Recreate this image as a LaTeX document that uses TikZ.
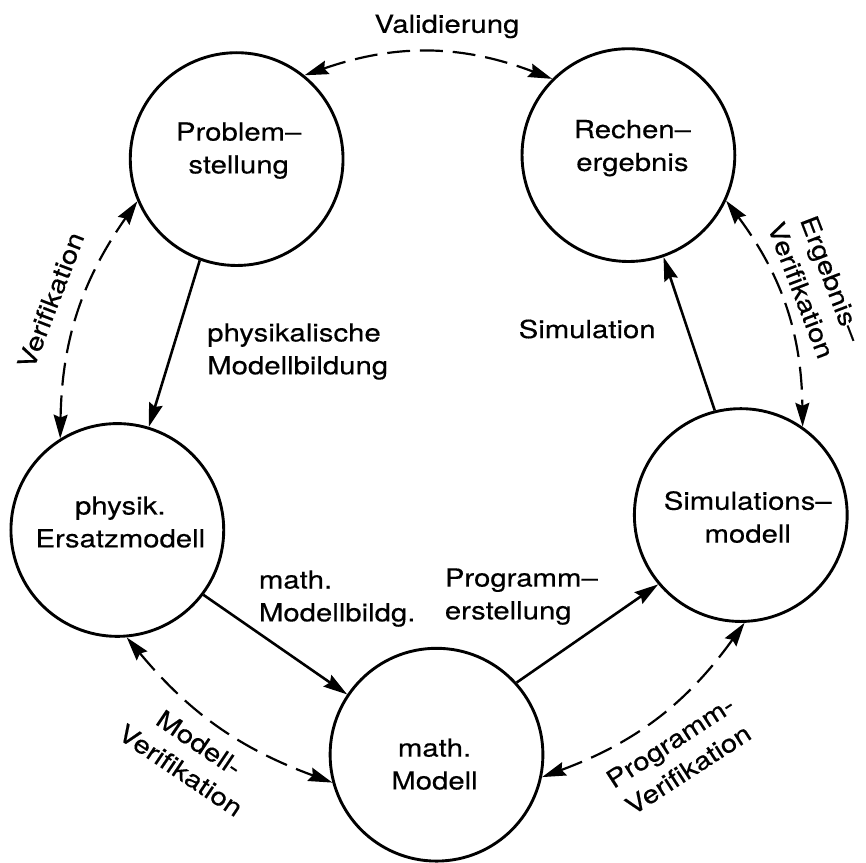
\documentclass[tikz,border=0pt]{standalone}
\usepackage{fontspec}
\setmainfont{TeX Gyre Heros}[FakeStretch=1.18,FakeBold=0.3]
\usetikzlibrary{arrows.meta}
\begin{document}
\begin{tikzpicture}[x=0.5pt,y=-0.5pt,
  state/.style={circle,draw,line width=1.45pt,minimum size=107pt,inner sep=0pt},
  txt/.style={font=\fontsize{12.5}{16.5}\selectfont,inner sep=0pt,align=center},
  ltxt/.style={txt,align=left,anchor=west},
  tip/.tip={Stealth[length=12pt,width=7pt,inset=1.5pt]},
  flow/.style={line width=1.3pt,-tip},
  check/.style={line width=1.1pt,dash pattern=on 11.5pt off 5pt,tip-tip},
]
\fill[white] (0,0) rectangle (864,866);

% the five stages
\node[state] (P) at (238,160) {};
\node[state] (R) at (632,156) {};
\node[state] (E) at (118,533) {};
\node[state] (M) at (439,759) {};
\node[state] (S) at (745,518) {};

\node[txt] (Pt) at (240,151.5) {Problem–\\stellung};
\node[txt] (Rt) at (636,149) {Rechen–\\ergebnis};
\node[txt] (Et) at (121,525) {physik.\\Ersatzmodell};
\node[txt] (Mt) at (437,768.5) {math.\\Modell};
\node[txt] (St) at (752,520) {Simulations–\\modell};

% modelling steps
\draw[flow] (P.-110) -- (E.73);
\draw[flow] (E.-37) -- (M.146);
\draw[flow] (M.42) -- (S.220);
\draw[flow] (S.104) -- (R.-71);

\node[ltxt] (l1) at (208,353.5) {physikalische\\Modellbildung};
\node[ltxt] (l2) at (260,602) {math.\\Modellbildg.};
\node[ltxt] (l3) at (447,600) {Programm–\\erstellung};
\node[txt,anchor=base] (l4) at (590.5,340) {Simulation};

% checks between the stages
\draw[check] (P.51) to[bend left=20] (R.135);
\draw[check] (E.122) to[bend left=17] (P.203);
\draw[check] (R.-25) to[bend left=18] (S.55);
\draw[check] (E.-85) to[bend right=15] (M.195);
\draw[check] (S.-88) to[bend left=17] (M.-12);

\node[txt,anchor=base] (c1) at (449.5,33) {Validierung};
\node[txt,rotate=69] (c2) at (51,302) {Verifikation};
\node[txt,rotate=-69] (c3) at (821,286) {Ergebnis–\\Verifikation};
\node[txt,rotate=-34] (c4) at (191,761) {Modell-\\Verifikation};
\node[txt,rotate=33] (c5) at (683,760) {Programm-\\Verifikation};
\end{tikzpicture}
\end{document}
